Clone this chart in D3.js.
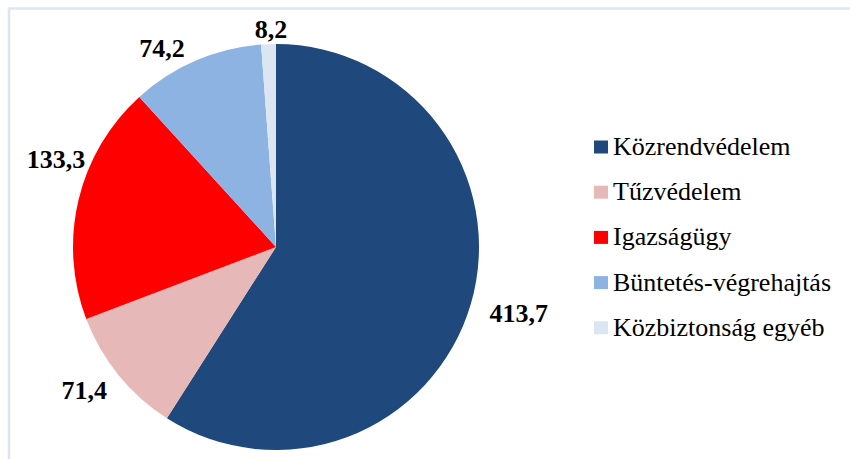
<!DOCTYPE html>
<html>
<head>
<meta charset="utf-8">
<script src="https://cdn.jsdelivr.net/npm/d3@7"></script>
<style>
  body { margin: 0; background: #fff; }
  svg { display: block; }
</style>
</head>
<body>
<div class="graphic"></div>
<script>
// kiadasi tetelek (mrd Ft)
var categories = ['Közrendvédelem', 'Tűzvédelem', 'Igazságügy', 'Büntetés-végrehajtás', 'Közbiztonság egyéb']
var values = [413.7, 71.4, 133.3, 74.2, 8.2]
var valueLabels = ['413,7', '71,4', '133,3', '74,2', '8,2']
var colors = ['#1f497d', '#e6b9b8', '#ff0000', '#8db3e2', '#dce6f2']
// label nudges (degrees off the mid angle, px off the rim), like the original
var labelShift = [0.3, 0.7, 10.2, -5.1, 0.8]
var labelPad = [21, 19, 8, 14, 6]

var width = 850
var height = 459
var cx = 276
var cy = 247
var radius = 203
var serif = "'Liberation Serif'"

var svg = d3.select('.graphic').append('svg')
	.attr('width', width)
	.attr('height', height)

// the light frame, cut off at right and bottom
svg.append('path')
	.attr('d', 'M9,' + height + 'V8.5H' + width)
	.attr('fill', 'none')
	.attr('stroke', '#dce6f2')
	.attr('stroke-width', 2.5)

var data = categories.map(function(c, i) {
	return { name: c, value: values[i], label: valueLabels[i], color: colors[i], i: i }
})

var pie = d3.pie()
	.sort(null)
	.value(function(d) { return d.value })

var arc = d3.arc()
	.innerRadius(0)
	.outerRadius(radius)

var chart = svg.append('g')
	.attr('transform', 'translate(' + cx + ',' + cy + ')')

var arcs = pie(data)

chart.selectAll('.slice')
	.data(arcs)
	.enter().append('path')
		.classed('slice', true)
		.attr('d', arc)
		.attr('fill', function(d) { return d.data.color })

// labels outside end, box pushed off the rim along the mid angle
var labels = chart.selectAll('.lbl')
	.data(arcs)
	.enter().append('text')
		.classed('lbl', true)
		.text(function(d) { return d.data.label })
		.style('font-family', serif)
		.style('font-weight', 'bold')
		.style('font-size', '26px')
		.attr('fill', '#000')
		.attr('text-anchor', 'middle')

labels.each(function(d) {
	var w = this.getComputedTextLength()
	var h = 17
	var a = (d.startAngle + d.endAngle) / 2 + labelShift[d.data.i] * Math.PI / 180
	var R = radius + labelPad[d.data.i]
	var x = Math.sin(a) * (R + w / 2)
	var y = -Math.cos(a) * (R + h / 2)
	d3.select(this).attr('x', x).attr('y', y + h / 2)
})

// legend
var legend = svg.append('g')
	.attr('transform', 'translate(594,147)')

var item = legend.selectAll('.leg')
	.data(data)
	.enter().append('g')
		.classed('leg', true)
		.attr('transform', function(d, i) { return 'translate(0,' + (i * 45.2) + ')' })

item.append('rect')
	.attr('x', 0)
	.attr('y', -6.5)
	.attr('width', 14)
	.attr('height', 13)
	.attr('fill', function(d) { return d.color })

item.append('text')
	.attr('x', 19)
	.attr('y', 8)
	.style('font-family', serif)
	.style('font-size', '26px')
	.attr('fill', '#000')
	.text(function(d) { return d.name })
</script>
</body>
</html>
